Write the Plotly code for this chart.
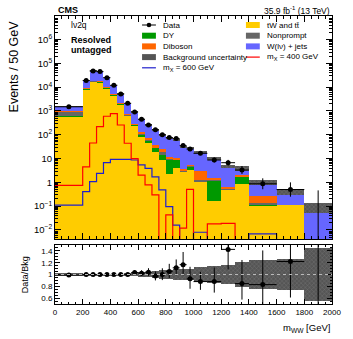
import math
import plotly.graph_objects as go

# binning (GeV) and per-bin yields, normalised to events / 50 GeV
edges = [0, 200, 250, 300, 350, 400, 450, 500, 550, 600, 650, 700, 750, 800,
         850, 900, 950, 1000, 1100, 1200, 1300, 1400, 1600, 1800, 2000]

data = [1500, 19000, 48000, 45000, 25000, 12000, 5200, 2100, 910, 450, 260, 163,
        100, 76, 69, 35, 25, 16.6, 8.7, 6.7, 3.3, 0.87, 0.5, 0]

ttbar = [575, 8100, 17000, 16000, 9000, 4500, 1900, 630, 240, 83, 49, 19.5,
         8.7, 2.2, 3.9, 2.8, 3.3, 1.07, 0.17, 0.48, 0.85, 0.105, 0.11, 0]
dy = [60, 500, 900, 800, 450, 250, 110, 40, 20, 20, 9, 9,
      5.3, 6.5, 4.8, 0.1, 1.3, 0.05, 1.0, 0.02, 0.89, 0.015, 0, 0]
nonprompt = [340, 200, 500, 500, 300, 150, 60, 30, 15, 10, 5, 2,
             5.5, 0.5, 0.5, 0.3, 0.3, 0.1, 0.1, 0.05, 0.05, 0.01, 0, 0]
diboson = [55, 300, 600, 600, 350, 200, 90, 40, 20, 12, 7, 6,
           5.5, 2, 1.3, 0.5, 0.6, 1.75, 0.31, 0.08, 0.26, 0.13, 0, 0]
wjets = [485, 9900, 29000, 27100, 14900, 6900, 3040, 1360, 585, 315, 180, 131,
         75, 61, 51.5, 26.3, 21.5, 15.9, 8.3, 4.07, 1.85, 0.79, 0.30, 0.095]

# relative background uncertainty per bin
bkg_unc = [0.02, 0.015, 0.015, 0.015, 0.015, 0.015, 0.015, 0.02, 0.03, 0.04, 0.05, 0.06,
           0.07, 0.08, 0.09, 0.1, 0.1, 0.12, 0.15, 0.16, 0.22, 0.25, 0.26, 0.45]

# signals (events / 50 GeV)
sig400 = [0.75, 4.5, 45, 220, 600, 780, 257, 44, 10, 2.0, 0.78, 0.3,
          0, 0.043, 0, 0.012, 0.51, 0, 0.018, 0.019, 0, 0, 0, 0]
sig600 = [0.11, 0.41, 1.07, 2.4, 6.8, 9.3, 9.3, 9.3, 8.7, 5.4, 3.9, 1.7,
          0.48, 0.096, 0.016, 0, 0, 0.008, 0, 0, 0, 0.0068, 0, 0]

y_tickvals = [1e-2, 1e-1, 1, 10, 1e2, 1e3, 1e4, 1e5, 1e6]
y_ticktext = ["10<sup>\u22122</sup>", "10<sup>\u22121</sup>", "1", "10", "10<sup>2</sup>",
              "10<sup>3</sup>", "10<sup>4</sup>", "10<sup>5</sup>", "10<sup>6</sup>"]
r_tickvals = [0.6, 0.8, 1.0, 1.2, 1.4]
r_ticktext = ["0.6", "0.8", "1", "1.2", "1.4"]

FONT = "Liberation Sans, Arial, Helvetica, sans-serif"
C_TT, C_DY, C_NP, C_VV, C_W = "#ffcc00", "#009900", "#666666", "#ff6600", "#6666ff"
C_400, C_600 = "#ff0000", "#2020cc"
FLOOR = 1e-4

centers = [(a + b) / 2 for a, b in zip(edges[:-1], edges[1:])]
widths = [b - a for a, b in zip(edges[:-1], edges[1:])]
nb = len(centers)

fig = go.Figure()

# stacked backgrounds
base = [0.0] * nb
for vals, col in [(ttbar, C_TT), (dy, C_DY), (nonprompt, C_NP), (diboson, C_VV), (wjets, C_W)]:
    fig.add_trace(go.Bar(x=centers, y=vals, base=list(base), width=widths,
                         marker=dict(color=col, line=dict(width=0)),
                         showlegend=False, hoverinfo="skip", xaxis="x", yaxis="y"))
    base = [b + v for b, v in zip(base, vals)]
total = base

# background uncertainty band
fig.add_trace(go.Bar(x=centers, y=[2 * t * u for t, u in zip(total, bkg_unc)],
                     base=[t * (1 - u) for t, u in zip(total, bkg_unc)], width=widths,
                     marker=dict(color="#555555", line=dict(width=0),
                                 pattern=dict(shape="x", fgcolor="#9a9a9a", bgcolor="#555555",
                                              size=3, solidity=0.25)),
                     showlegend=False, hoverinfo="skip", xaxis="x", yaxis="y"))

# signal step lines
for sig, col in [(sig600, C_600), (sig400, C_400)]:
    ys = [v if v > 0 else FLOOR for v in sig]
    fig.add_trace(go.Scatter(x=edges, y=ys + [ys[-1]], mode="lines", line_shape="hv",
                             line=dict(color=col, width=1.2), showlegend=False,
                             hoverinfo="skip", xaxis="x", yaxis="y"))

# data with poisson errors
def poisson(n):
    if n <= 0:
        return 0.0, 1.841
    s = math.sqrt(n + 0.25)
    return s - 0.5, s + 0.5

err_lo, err_hi = [], []
for d, w in zip(data, widths):
    n = d * w / 50
    lo, hi = poisson(n)
    err_lo.append(lo * 50 / w)
    err_hi.append(hi * 50 / w)

idx = [i for i in range(nb) if data[i] > 0]
fig.add_trace(go.Scatter(
    x=[centers[i] for i in idx], y=[data[i] for i in idx], mode="markers",
    marker=dict(color="black", size=5),
    error_y=dict(type="data", symmetric=False, array=[err_hi[i] for i in idx],
                 arrayminus=[err_lo[i] for i in idx], color="black", thickness=1, width=0),
    error_x=dict(type="data", array=[widths[i] / 2 for i in idx], color="black",
                 thickness=1, width=0),
    showlegend=False, xaxis="x", yaxis="y"))
for i in range(nb):
    if data[i] <= 0:
        fig.add_trace(go.Scatter(x=[centers[i], centers[i]], y=[FLOOR, err_hi[i]], mode="lines",
                                 line=dict(color="black", width=1), showlegend=False,
                                 xaxis="x", yaxis="y"))

# ratio panel
fig.add_trace(go.Bar(x=centers, y=[2 * u for u in bkg_unc], base=[1 - u for u in bkg_unc],
                     width=widths,
                     marker=dict(color="#555555", line=dict(width=0),
                                 pattern=dict(shape="x", fgcolor="#9a9a9a", bgcolor="#555555",
                                              size=3, solidity=0.25)),
                     showlegend=False, hoverinfo="skip", xaxis="x2", yaxis="y2"))
ratio = [d / t for d, t in zip(data, total)]
fig.add_trace(go.Scatter(
    x=centers, y=ratio, mode="markers", marker=dict(color="black", size=5),
    error_y=dict(type="data", symmetric=False, array=[h / t for h, t in zip(err_hi, total)],
                 arrayminus=[l / t for l, t in zip(err_lo, total)], color="black",
                 thickness=1, width=0),
    error_x=dict(type="data", array=[w / 2 for w in widths], color="black", thickness=1, width=0),
    showlegend=False, xaxis="x2", yaxis="y2"))

# ---- legend drawn by hand (ROOT style, two columns)
def X(px):
    return (px - 55) / 280

def Y(py):
    return (304 - py) / 288

shapes, annos = [], []
rows = [25 + 10.7 * i for i in range(5)]
left = [("Data", "data"), ("DY", C_DY), ("Diboson", C_VV),
        ("Background uncertainty", "band"), ("m<sub>X</sub> = 600 GeV", "l" + C_600)]
right = [("tW and tt\u0304", C_TT), ("Nonprompt", C_NP), ("W(l\u03bd) + jets", C_W),
         ("m<sub>X</sub> = 400 GeV", "l" + C_400)]
for col_x, entries in [(150, left), (255, right)]:
    for (label, kind), py in zip(entries, rows):
        if kind == "data":
            shapes.append(dict(type="line", xref="paper", yref="paper", x0=X(col_x - 7),
                               x1=X(col_x + 7), y0=Y(py), y1=Y(py), line=dict(color="black", width=1)))
            shapes.append(dict(type="circle", xref="paper", yref="paper", x0=X(col_x - 2.3),
                               x1=X(col_x + 2.3), y0=Y(py + 2.3), y1=Y(py - 2.3),
                               fillcolor="black", line=dict(width=0)))
        elif kind.startswith("l"):
            shapes.append(dict(type="line", xref="paper", yref="paper", x0=X(col_x - 7),
                               x1=X(col_x + 7), y0=Y(py), y1=Y(py), line=dict(color=kind[1:], width=1.2)))
        else:
            fc = "#555555" if kind == "band" else kind
            shapes.append(dict(type="rect", xref="paper", yref="paper", x0=X(col_x - 7),
                               x1=X(col_x + 7), y0=Y(py + 3), y1=Y(py - 3),
                               fillcolor=fc, line=dict(width=0)))
        annos.append(dict(text=label, xref="paper", yref="paper", x=X(col_x + 12), y=Y(py),
                          xanchor="left", yanchor="middle", showarrow=False,
                          font=dict(size=8, color="black", family=FONT)))

# ratio reference line
shapes.append(dict(type="line", xref="x2", yref="y2", x0=0, x1=2000, y0=1, y1=1,
                   line=dict(color="#bbbbbb", width=1, dash="dot")))

def txt(s, px, py, size, xa="left", ya="middle", angle=0):
    annos.append(dict(text=s, xref="paper", yref="paper", x=X(px), y=Y(py), xanchor=xa,
                      yanchor=ya, showarrow=False, textangle=angle,
                      font=dict(size=size, color="black", family=FONT)))

txt("<b>CMS</b>", 56, 10, 9)
txt("35.9 fb<sup>-1</sup> (13 TeV)", 335, 10, 8.5, xa="right")
txt("l\u03bd2q", 69, 25, 8.5)
txt("<b>Resolved</b>", 69, 40, 9)
txt("<b>untagged</b>", 69, 50, 9)
txt("Events / 50 GeV", 14, 18, 12.5, xa="center", ya="top", angle=-90)
txt("Data/Bkg", 25, 275, 9, xa="center", ya="middle", angle=-90)
txt("m<sub>WW</sub> [GeV]", 335, 328, 9.5, xa="right")

minor_log = [k * 10 ** n for n in range(-3, 7) for k in range(2, 10)]

axis_common = dict(showline=True, linecolor="black", linewidth=1, mirror="allticks",
                   ticks="inside", tickcolor="black", showgrid=False, zeroline=False)

fig.update_layout(
    width=353, height=339,
    margin=dict(l=55, r=18, t=16, b=35),
    paper_bgcolor="white", plot_bgcolor="white",
    barmode="overlay", bargap=0,
    font=dict(family=FONT, color="black", size=8),
    showlegend=False,
    shapes=shapes, annotations=annos,
    xaxis=dict(domain=[0, 1], anchor="y", range=[0, 2000], dtick=200, ticklen=6,
               showticklabels=False, minor=dict(dtick=50, ticks="inside", ticklen=3, tickcolor="black"),
               **axis_common),
    yaxis=dict(domain=[0.2257, 1], anchor="x", type="log", range=[-2.38, 6.99],
               tickvals=y_tickvals, ticktext=y_ticktext, ticklen=6, tickfont=dict(size=9.5),
               minor=dict(tickvals=minor_log, ticks="inside", ticklen=3, tickcolor="black"),
               **axis_common),
    xaxis2=dict(domain=[0, 1], anchor="y2", range=[0, 2000], dtick=200, ticklen=5,
                tickfont=dict(size=8),
                minor=dict(dtick=50, ticks="inside", ticklen=2.5, tickcolor="black"),
                **axis_common),
    yaxis2=dict(domain=[0, 0.2049], anchor="x2", range=[0.5, 1.5], tickvals=r_tickvals,
                ticktext=r_ticktext, ticklen=5, tickfont=dict(size=8),
                minor=dict(dtick=0.05, ticks="inside", ticklen=2.5, tickcolor="black"),
                **axis_common),
)

fig.write_html("out.html", config={"displayModeBar": False},
               post_script="document.body.style.margin='0px';")
